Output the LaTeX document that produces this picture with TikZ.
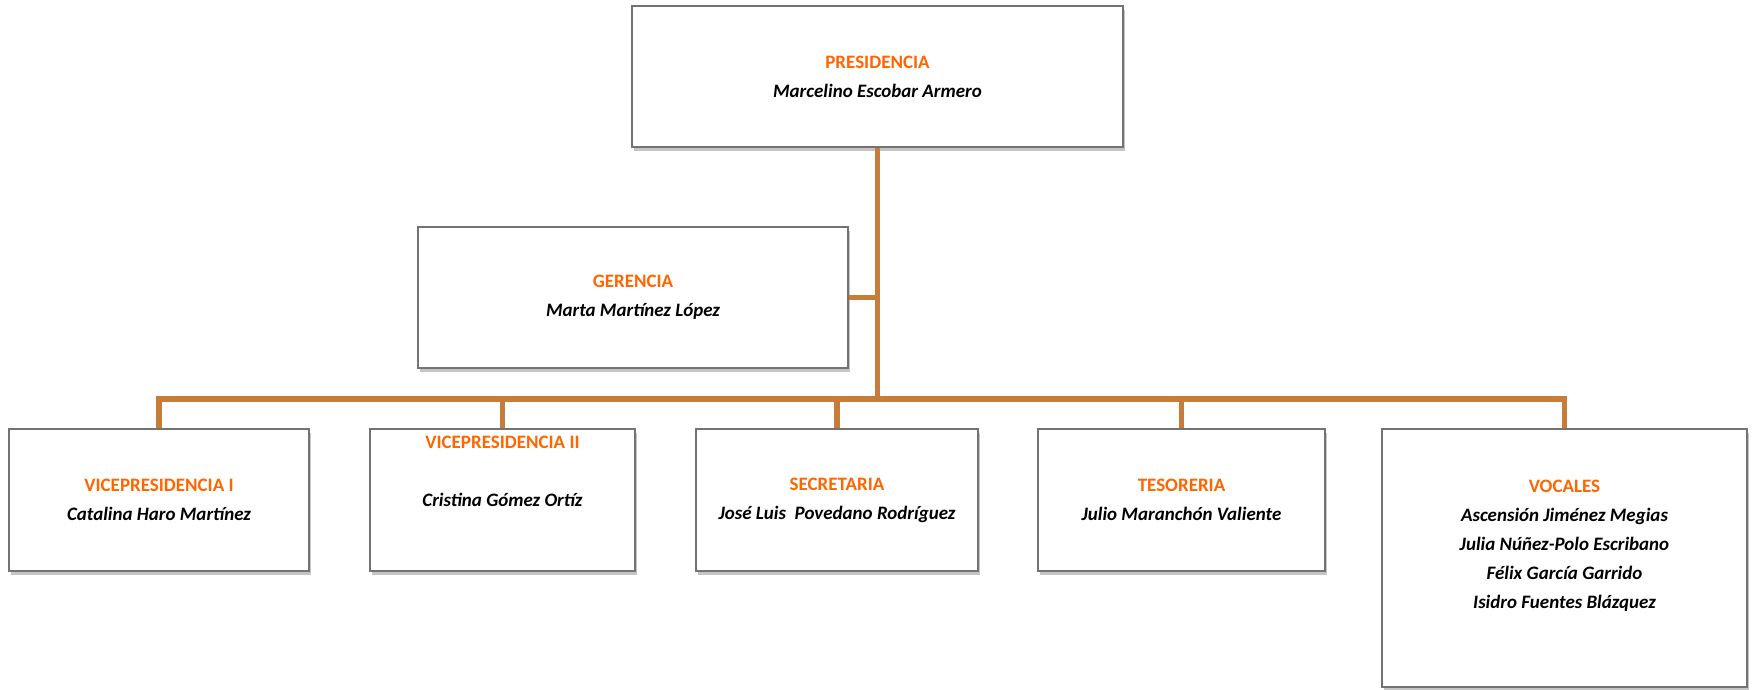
\documentclass[tikz,border=0pt]{standalone}
\usepackage{fontspec}
\setmainfont{Carlito}
\usetikzlibrary{shadows}
\definecolor{linkbrown}{RGB}{199,124,58}
\definecolor{titleorange}{RGB}{255,102,0}
\newcommand{\cargo}[1]{\textcolor{titleorange}{\bfseries #1}}
\newcommand{\nombre}[1]{{\bfseries\itshape #1}}

\begin{document}
\begin{tikzpicture}[
  box/.style={draw=black!55, line width=0.9pt, fill=white,
    drop shadow={shadow xshift=1.2pt, shadow yshift=-2.5pt, fill=black!45, opacity=0.5},
    align=center, inner sep=2pt, font=\fontsize{10.8}{16.5}\selectfont},
  inbox/.style={align=center, inner sep=0pt, font=\fontsize{10.8}{16.5}\selectfont},
  link/.style={draw=linkbrown, line width=3.3pt}
]
\useasboundingbox (0,0) rectangle (35.12,-13.8);
%%boxes
\node[box, minimum width=9.82cm, minimum height=2.82cm] (pres) at (17.55,-1.53)
  {\cargo{PRESIDENCIA}\\\nombre{Marcelino Escobar Armero}};
\node[box, minimum width=8.6cm, minimum height=2.82cm] (ger) at (12.66,-5.95)
  {\cargo{GERENCIA}\\\nombre{Marta Martínez López}};
\node[box, minimum width=6.0cm, minimum height=2.84cm] (vp1) at (3.18,-10.0)
  {\cargo{VICEPRESIDENCIA I}\\\nombre{Catalina Haro Martínez}};
\node[box, minimum width=5.3cm, minimum height=2.84cm,
  label={[inbox, anchor=north, yshift=-0.14cm]north:\cargo{VICEPRESIDENCIA II}}] (vp2) at (10.05,-10.0)
  {\nombre{Cristina Gómez Ortíz}};
\node[box, minimum width=5.64cm, minimum height=2.84cm] (secr) at (16.74,-10.0)
  {\cargo{SECRETARIA}\\\nombre{José Luis~~Povedano Rodríguez}};
\node[box, minimum width=5.74cm, minimum height=2.84cm] (teso) at (23.63,-10.0)
  {\cargo{TESORERIA}\\\nombre{Julio Maranchón Valiente}};
\node[box, minimum width=7.3cm, minimum height=5.16cm,
  label={[inbox, yshift=0.24cm]center:\cargo{VOCALES}\\\nombre{Ascensión Jiménez Megias}\\
    \nombre{Julia Núñez-Polo Escribano}\\\nombre{Félix García Garrido}\\\nombre{Isidro Fuentes Blázquez}}] (voc) at (31.29,-11.16) {};

%%connectors
\coordinate (bus) at (17.55,-7.98);
\draw[link] (pres.south) -- (bus);
\draw[link] (ger.east) -- (ger.east -| bus);
\draw[link] (vp1.north) |- (bus) -| (voc.north);
\foreach \n in {vp2,secr,teso}
  \draw[link] (\n.north) -- (\n.north |- bus);
\end{tikzpicture}
\end{document}
